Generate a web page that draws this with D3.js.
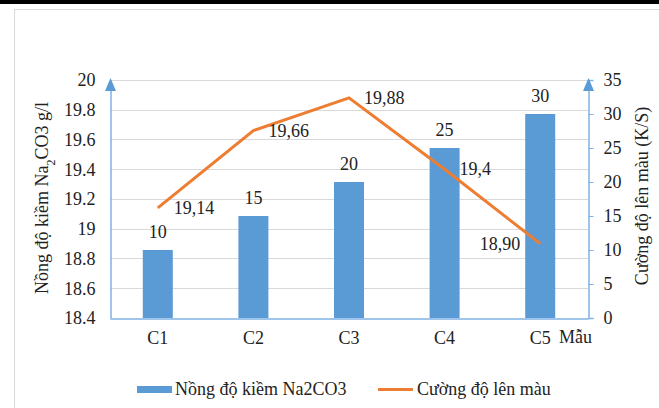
<!DOCTYPE html>
<html>
<head>
<meta charset="utf-8">
<script src="https://cdn.jsdelivr.net/npm/d3@7"></script>
<style>
  html, body { margin: 0; padding: 0; background: #fff; }
</style>
</head>
<body>
<div id="chart"></div>
<script>
// Data
var categories = ["C1", "C2", "C3", "C4", "C5"];
var barValues = [10, 15, 20, 25, 30];               // right axis
var lineValues = [19.14, 19.66, 19.88, 19.4, 18.90]; // left axis
var lineLabels = ["19,14", "19,66", "19,88", "19,4", "18,90"];
var leftTicks = [18.4, 18.6, 18.8, 19, 19.2, 19.4, 19.6, 19.8, 20];
var rightTicks = [0, 5, 10, 15, 20, 25, 30, 35];

var width = 659, height = 408;
var blue = "#5B9BD5", orange = "#ED7D31", axisBlue = "#7FB2E5";
var fs = "18px";
var font = "'Liberation Serif'";

var svg = d3.select("#chart").append("svg")
  .attr("width", width).attr("height", height);

// black strip on top and the chart frame
svg.append("rect").attr("x", 0).attr("y", 0).attr("width", width).attr("height", 4).attr("fill", "#000");
svg.append("rect").attr("x", 14.5).attr("y", 9.5).attr("width", width).attr("height", height)
  .attr("fill", "none").attr("stroke", "#d9d9d9");

var x = d3.scaleBand().domain(categories).range([110, 588]).paddingInner(0.69).paddingOuter(0.345);
var xc = d3.scalePoint().domain(categories).range([110, 588]).padding(0.5);
var yL = d3.scaleLinear().domain([18.4, 20]).range([318, 80]);
var yR = d3.scaleLinear().domain([0, 35]).range([318, 80]);

// gridlines
svg.append("g").selectAll("line").data(leftTicks.slice(1)).join("line")
  .attr("x1", 110).attr("x2", 588)
  .attr("y1", function (d) { return Math.round(yL(d)) + 0.5; })
  .attr("y2", function (d) { return Math.round(yL(d)) + 0.5; })
  .attr("stroke", "#d9d9d9").attr("stroke-width", 1);

// bars
svg.append("g").selectAll("rect").data(barValues).join("rect")
  .attr("x", function (d, i) { return xc(categories[i]) - 15; })
  .attr("width", 30)
  .attr("y", function (d) { return yR(d); })
  .attr("height", function (d) { return yR(0) - yR(d); })
  .attr("fill", blue);

svg.append("g").selectAll("text").data(barValues).join("text")
  .attr("x", function (d, i) { return xc(categories[i]); })
  .attr("y", function (d) { return yR(d) - 12; })
  .attr("text-anchor", "middle")
  .text(function (d) { return d; });

// axes
var leftAxis = d3.axisLeft(yL).tickValues(leftTicks).tickSize(0).tickPadding(15)
  .tickFormat(function (d) { return String(+d.toFixed(1)); });
var gl = svg.append("g").attr("transform", "translate(110.5,0)").call(leftAxis);
var rightAxis = d3.axisRight(yR).tickValues(rightTicks).tickSize(5).tickPadding(10);
var gr = svg.append("g").attr("transform", "translate(588.5,0)").call(rightAxis);
[gl, gr].forEach(function (g) {
  g.select(".domain").attr("stroke", axisBlue).attr("stroke-width", 1.5);
  g.selectAll(".tick line").attr("stroke", axisBlue);
});
gr.selectAll(".tick").filter(function (d) { return d === 35; }).select("line").remove();

var bottomAxis = d3.axisBottom(x).tickSize(0).tickPadding(13);
var gb = svg.append("g").attr("transform", "translate(0,318.5)").call(bottomAxis);
gb.select(".domain").attr("stroke", axisBlue).attr("stroke-width", 1.5);
svg.append("text").attr("x", 559).attr("y", 343).text("Mẫu");

// arrowheads on both vertical axes
[110.5, 588.5].forEach(function (ax) {
  svg.append("path")
    .attr("d", "M" + ax + ",78 L" + (ax - 5.5) + ",91 L" + (ax + 5.5) + ",91 Z")
    .attr("fill", "#5B9BD5");
});

// line series
var line = d3.line()
  .x(function (d, i) { return xc(categories[i]); })
  .y(function (d) { return yL(d); });
svg.append("path").datum(lineValues).attr("d", line)
  .attr("fill", "none").attr("stroke", orange).attr("stroke-width", 3);

var labelDx = [16, 15, 15, 15, -20];
svg.append("g").selectAll("text").data(lineValues).join("text")
  .attr("x", function (d, i) { return xc(categories[i]) + labelDx[i]; })
  .attr("y", function (d) { return yL(d) + 6; })
  .attr("text-anchor", function (d, i) { return labelDx[i] < 0 ? "end" : "start"; })
  .text(function (d, i) { return lineLabels[i]; });

// axis titles
var tl = svg.append("text").attr("transform", "translate(48,198) rotate(-90)")
  .attr("text-anchor", "middle");
tl.append("tspan").text("Nồng độ kiềm Na");
tl.append("tspan").attr("baseline-shift", "sub").style("font-size", "12px").text("2");
tl.append("tspan").text("CO3 g/l");

svg.append("text").attr("transform", "translate(648,196) rotate(-90)")
  .attr("text-anchor", "middle")
  .text("Cường độ lên màu (K/S)");

// legend
var legend = svg.append("g");
legend.append("rect").attr("x", 137).attr("y", 386).attr("width", 35).attr("height", 7).attr("fill", blue);
legend.append("text").attr("x", 175).attr("y", 395).text("Nồng độ kiềm Na2CO3");
legend.append("line").attr("x1", 378).attr("x2", 413).attr("y1", 389.5).attr("y2", 389.5)
  .attr("stroke", orange).attr("stroke-width", 3);
legend.append("text").attr("x", 417).attr("y", 395).text("Cường độ lên màu");

// one font for every text
svg.selectAll("g").attr("font-family", null).attr("font-size", null);
svg.selectAll("text")
  .attr("font-family", "Liberation Serif")
  .style("font-family", font)
  .style("font-size", fs)
  .attr("fill", "#222");
</script>
</body>
</html>
